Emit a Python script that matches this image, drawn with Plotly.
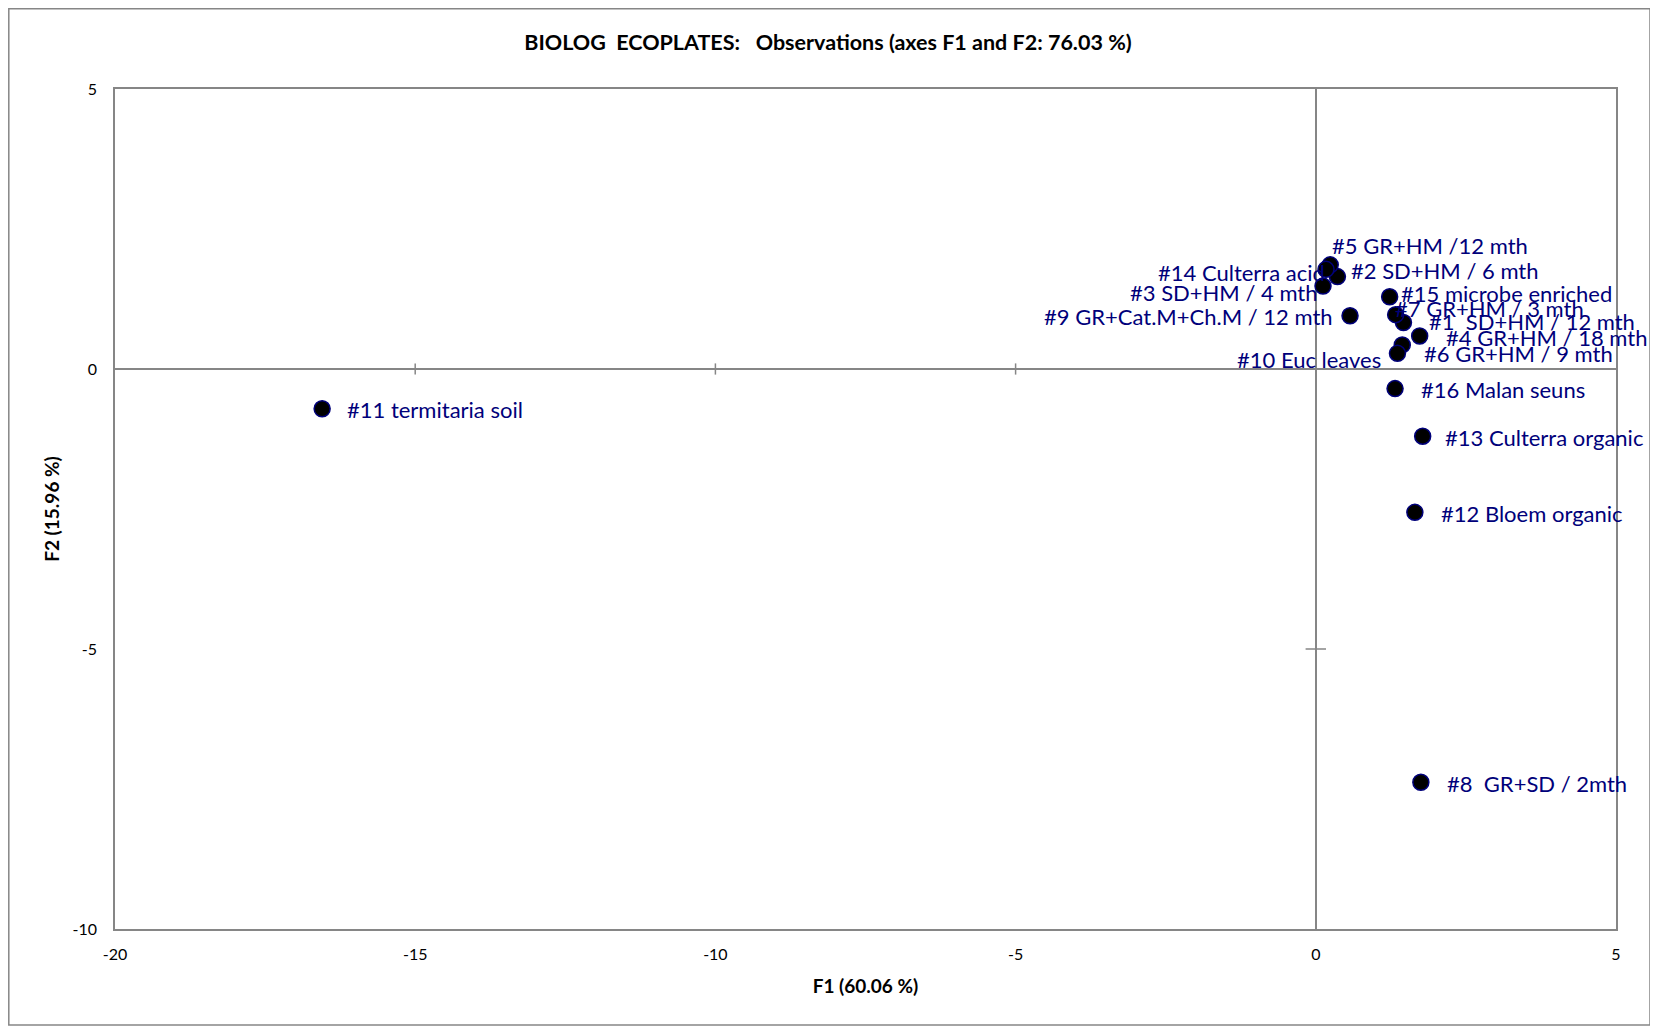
import plotly.graph_objects as go

# ---- data ----
labels = ["#1  SD+HM / 12 mth", "#2 SD+HM / 6 mth", "#3 SD+HM / 4 mth", "#4 GR+HM / 18 mth",
          "#5 GR+HM /12 mth", "#6 GR+HM / 9 mth", "#7 GR+HM / 3 mth", "#8  GR+SD / 2mth",
          "#9 GR+Cat.M+Ch.M / 12 mth", "#10 Euc leaves", "#11 termitaria soil", "#12 Bloem organic",
          "#13 Culterra organic", "#14 Culterra acid", "#15 microbe enriched", "#16 Malan seuns"]
f1 = [1.46, 0.36, 0.12, 1.73, 0.24, 1.44, 1.33, 1.75, 0.57, 1.36, -16.55, 1.65, 1.78, 0.17, 1.23, 1.32]
f2 = [0.83, 1.65, 1.48, 0.59, 1.86, 0.43, 0.97, -7.38, 0.95, 0.28, -0.71, -2.56, -1.20, 1.78, 1.29, -0.35]

x_ticks = [-20, -15, -10, -5, 0, 5]
y_ticks = [-10, -5, 0, 5]

# ---- label placement (style: anchor side and pixel offsets) ----
label_style = {
    "#1  SD+HM / 12 mth": ("left", 24, 1),
    "#2 SD+HM / 6 mth": ("left", 12, 6),
    "#3 SD+HM / 4 mth": ("right", -3, -6),
    "#4 GR+HM / 18 mth": ("left", 24, -2),
    "#5 GR+HM /12 mth": ("left", 0, 19),
    "#6 GR+HM / 9 mth": ("left", 20, -9),
    "#7 GR+HM / 3 mth": ("left", -3, 6),
    "#8  GR+SD / 2mth": ("left", 24, -1),
    "#9 GR+Cat.M+Ch.M / 12 mth": ("right", -15, -1),
    "#10 Euc leaves": ("right", -14, -6),
    "#11 termitaria soil": ("left", 23, -1),
    "#12 Bloem organic": ("left", 24, -1),
    "#13 Culterra organic": ("left", 20, -1),
    "#14 Culterra acid": ("right", 1, -3),
    "#15 microbe enriched": ("left", 9, 3),
    "#16 Malan seuns": ("left", 24, -1),
}

# the page places the figure 8px from its top-left corner
W, H = 1650, 1021
ML, MR, MT, MB = 107, 42, 81, 100
FONT = "Lato, 'Open Sans', sans-serif"
NAVY = "#00007a"
GRID = "#868686"

fig = go.Figure()
fig.add_trace(go.Scatter(
    x=f1, y=f2, mode="markers",
    marker=dict(size=16, color="black", line=dict(color=NAVY, width=1.5)),
    hoverinfo="text", text=labels, showlegend=False,
))

for lab, xv, yv in zip(labels, f1, f2):
    anchor, dx, dy = label_style[lab]
    fig.add_annotation(x=xv, y=yv, text=lab, showarrow=False, xanchor=anchor, yanchor="middle",
                       xshift=dx, yshift=dy, font=dict(family=FONT, size=22, color=NAVY))

# cross tick marks on the zero axes
for t in x_ticks:
    if t not in (-20, 0, 5):
        fig.add_shape(type="line", xref="x", yref="y", x0=t, x1=t, y0=-0.1, y1=0.1,
                      line=dict(color=GRID, width=1.5))
for t in y_ticks:
    if t not in (-10, 0, 5):
        fig.add_shape(type="line", xref="x", yref="y", x0=-0.17, x1=0.17, y0=t, y1=t,
                      line=dict(color=GRID, width=1.5))

# outer chart border
pw, ph = W - ML - MR, H - MT - MB
def px_to_paper_x(p):
    return (p - ML) / pw
def px_to_paper_y(p):
    return (H - MB - p) / ph
fig.add_shape(type="rect", xref="paper", yref="paper",
              x0=px_to_paper_x(0.8), x1=px_to_paper_x(1642), y0=px_to_paper_y(1017), y1=px_to_paper_y(0.8),
              line=dict(color=GRID, width=1.5), fillcolor="rgba(0,0,0,0)", layer="below")

fig.update_layout(
    width=W, height=H,
    margin=dict(l=ML, r=MR, t=MT, b=MB),
    paper_bgcolor="white", plot_bgcolor="white",
    font=dict(family=FONT, color="black"),
    title=dict(text="<b>BIOLOG  ECOPLATES:   Observations (axes F1 and F2: 76.03 %)</b>",
               x=820 / W, xanchor="center", xref="container", y=1 - 34 / H, yanchor="middle",
               font=dict(family=FONT, size=21.5, color="black")),
    xaxis=dict(range=[-20, 5], tickvals=x_ticks, ticktext=[str(t) for t in x_ticks],
               showgrid=False, zeroline=True,
               zerolinecolor=GRID, zerolinewidth=1.5, showline=True, mirror=True,
               linecolor=GRID, linewidth=1.5, ticks="", tickfont=dict(size=16, color="black"),
               ticklabelstandoff=10,
               title=dict(text="<b>F1 (60.06 %)</b>", font=dict(size=19, color="black"), standoff=18)),
    yaxis=dict(range=[-10, 5], tickvals=y_ticks, ticktext=[str(t) for t in y_ticks],
               showgrid=False, zeroline=True,
               zerolinecolor=GRID, zerolinewidth=1.5, showline=True, mirror=True,
               linecolor=GRID, linewidth=1.5, ticks="", tickfont=dict(size=16, color="black"),
               ticklabelstandoff=13,
               title=dict(text="<b>F2 (15.96 %)</b>", font=dict(size=19, color="black"), standoff=8)),
)

fig.write_html("out.html")
